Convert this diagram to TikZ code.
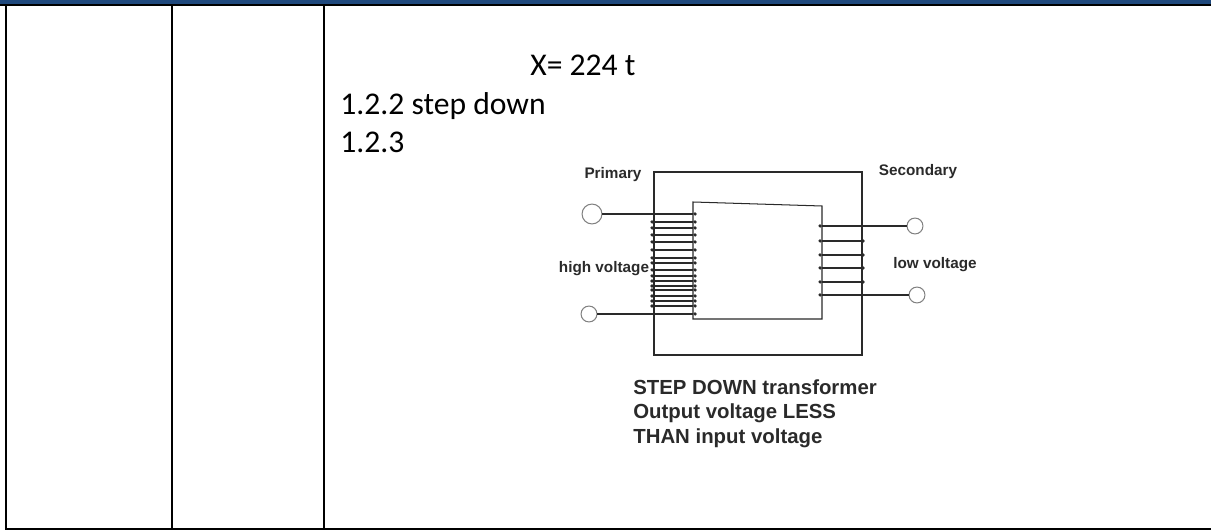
\documentclass[tikz,border=0pt]{standalone}
\usepackage{fontspec}
\setmainfont{Carlito}
\newfontfamily\figfont{Liberation Sans}
\definecolor{headblue}{HTML}{1F497D}
\definecolor{figgray}{HTML}{2A2A2A}
\tikzset{
  gridline/.style={line width=1.1pt},
  figline/.style={line width=0.58pt, figgray},
  answer/.style={anchor=base west, inner sep=0pt, font=\fontsize{18}{21}\selectfont},
  figlabel/.style={inner sep=0pt, text=figgray, font=\figfont\bfseries\fontsize{8.7}{10}\selectfont},
  terminal/.style={draw=gray, line width=0.58pt, circle, fill=white, inner sep=0pt, minimum size=#1},
  turndot/.style={fill=figgray, circle, inner sep=0pt, minimum size=2pt}
}
\begin{document}
\begin{tikzpicture}[x=0.02cm,y=-0.02cm]
\useasboundingbox (0,0) rectangle (1211,530);
\fill[headblue] (0,0) rectangle (1211,4);
\draw[gridline] (0,5) -- (1211,5);
\draw[gridline] (6,5) -- (6,529) -- (1211,529);
\draw[gridline] (172,5) -- (172,529);
\draw[gridline] (324,5) -- (324,529);
\node[answer] (xval) at (530,76) {X= 224 t};
\node[answer] (stepdown) at (340,115) {1.2.2 step down};
\node[answer] (three) at (340,153) {1.2.3};
\draw[figline] (654,172) rectangle (862,355);
\draw[figline] (693,202) -- (822,206) -- (822,319) -- (693,319) -- cycle;
\node[terminal=20*0.5669pt] (pin) at (592,214) {};
\node[terminal=16*0.5669pt] (pout) at (589,314) {};
\node[terminal=16*0.5669pt] (sin) at (915,226) {};
\node[terminal=16*0.5669pt] (sout) at (917,295) {};
\foreach \y [count=\i] in {222,228,235,242,250,258,263,270,276,281,286,290,296,301,306} {
  \node[turndot] (pl\i) at (652,\y) {};
  \node[turndot] (pr\i) at (695,\y) {};
  \draw[figline] (pl\i) -- (pr\i);
}
\foreach \y [count=\i] in {241,255,268,282} {
  \node[turndot] (sl\i) at (820,\y) {};
  \node[turndot] (sr\i) at (863,\y) {};
  \draw[figline] (sl\i) -- (sr\i);
}
\node[turndot] (pa) at (695,214) {};
\node[turndot] (pb) at (695,314) {};
\node[turndot] (sa) at (820,226) {};
\node[turndot] (sb) at (820,295) {};
\draw[figline] (pin) -- (pa);
\draw[figline] (pout) -- (pb);
\draw[figline] (sa) -- (sin);
\draw[figline] (sb) -- (sout);
\node[figlabel] (primary) at (613,175) {Primary};
\node[figlabel] (secondary) at (918,172) {Secondary};
\node[figlabel] (high) at (604,269) {high voltage};
\node[figlabel] (low) at (935,265) {low voltage};
\node[figlabel, anchor=base west, font=\figfont\bfseries\fontsize{11.6}{13.9}\selectfont, align=left] (caption) at (633,443) {STEP DOWN transformer\\Output voltage LESS\\THAN input voltage};
\end{tikzpicture}
\end{document}
